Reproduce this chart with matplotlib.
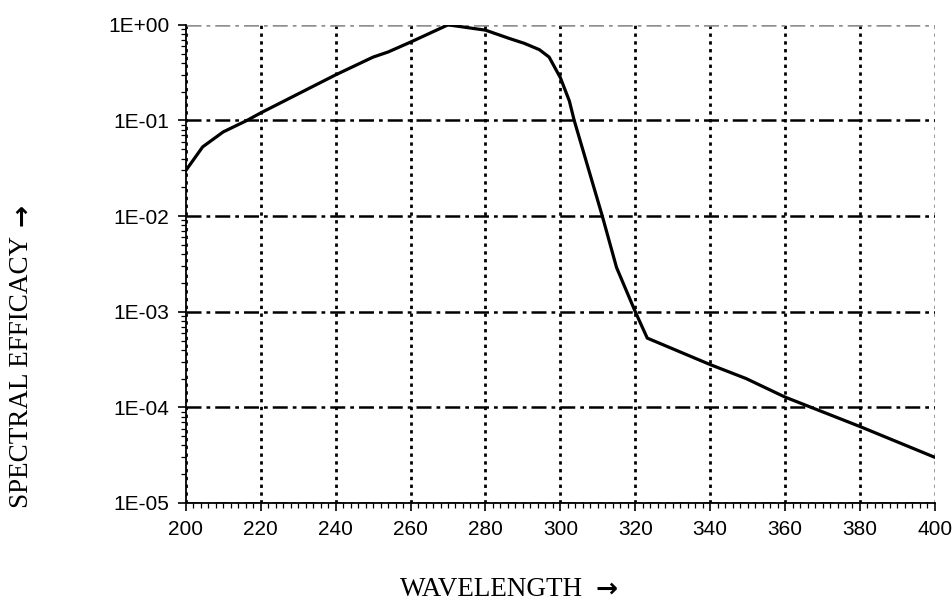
import numpy as np
import matplotlib.pyplot as plt
from matplotlib.ticker import FixedLocator, MultipleLocator, LogLocator, NullFormatter

# wavelength (nm) and spectral efficacy
wavelength = [200, 204.5, 210, 216.3, 220, 240, 250, 254, 260, 270, 280,
              286.4, 290.4, 294.4, 297, 300, 302.4, 303.7, 311.2, 315,
              320, 323.2, 340, 349.6, 360, 380, 400]
efficacy = [0.030, 0.053, 0.076, 0.10, 0.12, 0.30, 0.46, 0.52, 0.66, 1.0, 0.88,
            0.72, 0.64, 0.55, 0.46, 0.28, 0.16, 0.10, 0.010, 0.0029,
            0.0010, 5.3e-4, 2.8e-4, 2.0e-4, 1.28e-4, 6.3e-5, 3.0e-5]

xticks = [200, 220, 240, 260, 280, 300, 320, 340, 360, 380, 400]
yticks = [1e-5, 1e-4, 1e-3, 1e-2, 1e-1, 1e0]
ylabels = ['1E-05', '1E-04', '1E-03', '1E-02', '1E-01', '1E+00']

fig = plt.figure(figsize=(9.53, 6.06), dpi=100)
ax = fig.add_axes([0.195, 0.170, 0.786, 0.789])

ax.plot(wavelength, efficacy, color='black', lw=2.3, zorder=3)
ax.set_yscale('log')
ax.set_xlim(200, 400)
ax.set_ylim(1e-5, 1)

ax.xaxis.set_major_locator(FixedLocator(xticks))
ax.xaxis.set_minor_locator(MultipleLocator(2))
ax.yaxis.set_major_locator(FixedLocator(yticks))
ax.yaxis.set_minor_locator(LogLocator(base=10, subs=np.arange(2, 10)))
ax.yaxis.set_minor_formatter(NullFormatter())
ax.set_xticklabels([str(t) for t in xticks])
ax.set_yticklabels(ylabels)

ax.tick_params(axis='both', which='major', direction='out', length=6, width=1.2,
               labelsize=15, pad=6)
ax.tick_params(axis='both', which='minor', direction='out', length=3.5, width=0.9)
for lab in ax.get_xticklabels() + ax.get_yticklabels():
    lab.set_family('Liberation Sans')

ax.spines['top'].set_visible(False)
ax.spines['right'].set_visible(False)
ax.spines['left'].set_linewidth(1.3)
ax.spines['bottom'].set_linewidth(1.3)

#rejilla: verticales punteadas, horizontales punto-raya
ax.grid(True, axis='x', which='major', color='black', lw=2.0, ls=(0, (1.2, 1.6)))
ax.grid(True, axis='y', which='major', color='black', lw=1.8, ls=(0, (6, 2, 1.5, 2)))
ax.set_axisbelow(True)
for gl in ax.get_xgridlines()[-1:] + ax.get_ygridlines()[-1:]:
    gl.set_color('#909090')

#etiquetas de los ejes, la flecha va aparte en DejaVu Sans
tx = fig.text(0.42, 0.016, 'WAVELENGTH', ha='left', va='baseline', fontsize=19.5,
              family='Liberation Serif')
ty = fig.text(0.023, 0.162, 'SPECTRAL EFFICACY', ha='center', va='bottom', fontsize=19.5,
              rotation=90, family='Liberation Serif')
fig.canvas.draw()
inv = fig.transFigure.inverted()
bx = tx.get_window_extent()
by = ty.get_window_extent()
x1, _ = inv.transform((bx.x1 + 12, 0))
_, y1 = inv.transform((0, by.y1 + 10))
fig.text(x1, 0.016, '\u2192', ha='left', va='baseline', fontsize=19, fontweight='bold',
         family='DejaVu Sans')
fig.text(0.023, y1, '\u2192', ha='center', va='bottom', fontsize=19, fontweight='bold',
         rotation=90, family='DejaVu Sans')

fig.savefig('out.png', dpi=100)
